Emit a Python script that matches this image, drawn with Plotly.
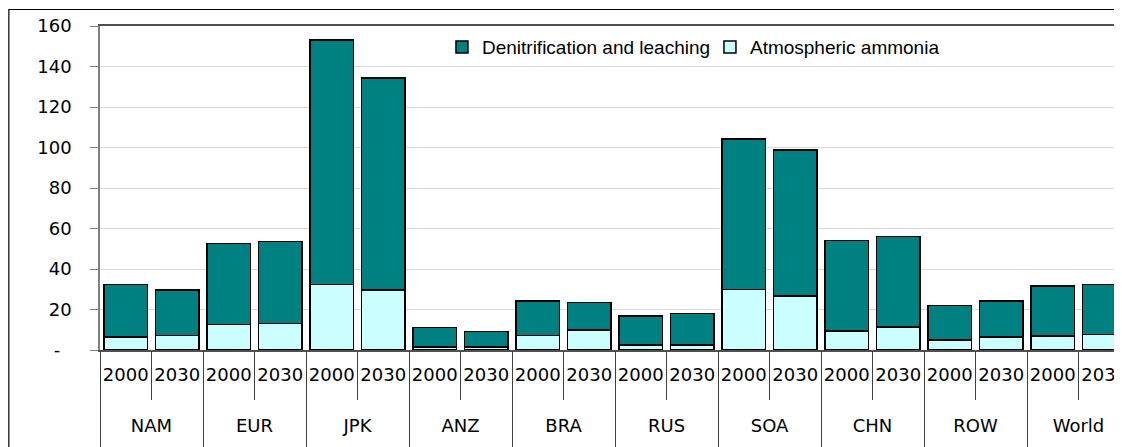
import plotly.graph_objects as go

regions = ["NAM", "EUR", "JPK", "ANZ", "BRA", "RUS", "SOA", "CHN", "ROW", "World"]
years = ["2000", "2030"]
ammonia = [6.4, 7.2, 12.5, 13.2, 32.3, 29.6, 1.5, 1.6, 7.2, 9.9,
           2.5, 2.5, 30.0, 26.7, 9.4, 11.4, 4.9, 6.4, 6.9, 7.7]
denitrification = [26.0, 22.4, 40.2, 40.3, 120.8, 104.7, 9.7, 7.6, 17.0, 13.6,
                   14.3, 15.6, 74.2, 72.1, 44.8, 44.7, 17.2, 17.8, 24.7, 24.7]
y_ticks = [0, 20, 40, 60, 80, 100, 120, 140, 160]
y_ticktext = ["-&#160;&#160;&#8203;", "20", "40", "60", "80", "100", "120", "140", "160"]

n_years = len(years)
n_bars = len(regions) * n_years
bar_pos = list(range(n_bars))
year_labels = [y for _ in regions for y in years]
group_centers = [i * n_years + (n_years - 1) / 2 for i in range(len(regions))]

fig = go.Figure()
fig.add_trace(go.Bar(
    x=bar_pos, y=ammonia, name="Atmospheric ammonia",
    marker=dict(color="#CCFFFF", line=dict(color="black", width=1.5)),
))
fig.add_trace(go.Bar(
    x=bar_pos, y=denitrification, name="Denitrification and leaching",
    marker=dict(color="#008080", line=dict(color="black", width=1.5)),
))
# invisible trace carrying the region-level axis
fig.add_trace(go.Scatter(
    x=group_centers, y=[None] * len(regions), xaxis="x2", yaxis="y",
    showlegend=False, hoverinfo="skip", mode="markers",
))

x_range = [-0.5, n_bars - 0.5]

fig.update_layout(
    width=1122, height=447,
    margin=dict(l=92, r=0, t=18, b=105, autoexpand=False),
    barmode="stack", bargap=0.15,
    plot_bgcolor="white", paper_bgcolor="white",
    font=dict(family="DejaVu Sans", size=17, color="black"),
    legend=dict(orientation="h", x=0.332, y=0.935, xanchor="left", yanchor="middle",
                traceorder="reversed", entrywidth=223,
                font=dict(family="Arial, Liberation Sans", size=19),
                bgcolor="rgba(0,0,0,0)", tracegroupgap=0),
    shapes=[dict(type="rect", xref="paper", yref="paper", x0=-0.0885, x1=1.2,
                 y0=-1.0, y1=1.051, line=dict(color="black", width=1.2),
                 fillcolor="rgba(0,0,0,0)", layer="below")],
    yaxis=dict(
        range=[0, 160], tickvals=y_ticks, ticktext=y_ticktext,
        showgrid=True, gridcolor="#D9D9D9", gridwidth=1,
        showline=True, linecolor="#808080", linewidth=1.5,
        ticks="outside", ticklen=8, tickcolor="#808080",
        ticklabelstandoff=15, zeroline=False, automargin=False,
        tickfont=dict(family="DejaVu Sans", size=18),
    ),
    xaxis=dict(
        range=x_range, tickmode="array", tickvals=bar_pos, ticktext=year_labels,
        showline=True, linecolor="#505050", linewidth=1.5, mirror=True,
        ticks="", showgrid=False, zeroline=False, tickangle=0, automargin=False,
        ticklabelstandoff=8,
        minor=dict(tick0=-0.5, dtick=1, ticks="outside", ticklen=48,
                   tickcolor="#404040", tickwidth=1, showgrid=False),
        tickfont=dict(family="DejaVu Sans", size=18),
    ),
    xaxis2=dict(
        range=x_range, overlaying="x", anchor="y", side="bottom",
        tickmode="array", tickvals=group_centers, ticktext=regions,
        showline=False, ticks="", showgrid=False, zeroline=False, tickangle=0,
        automargin=False, ticklabelstandoff=63,
        minor=dict(tick0=-0.5, dtick=n_years, ticks="outside", ticklen=100,
                   tickcolor="#404040", tickwidth=1, showgrid=False),
        tickfont=dict(family="DejaVu Sans", size=18),
    ),
)

fig.write_html("out.html")
